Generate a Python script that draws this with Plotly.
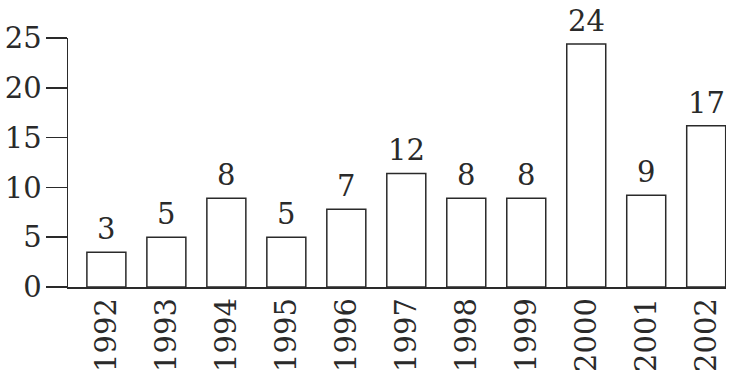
import plotly.graph_objects as go

years = ["1992", "1993", "1994", "1995", "1996", "1997", "1998", "1999", "2000", "2001", "2002"]
values = [3.5, 5.0, 8.9, 5.0, 7.8, 11.4, 8.9, 8.9, 24.4, 9.2, 16.2]
labels = ["3", "5", "8", "5", "7", "12", "8", "8", "24", "9", "17"]
y_ticks = [0, 5, 10, 15, 20, 25]

FONT = "DejaVu Serif"
INK = "#2a2a2a"
FS = 29

fig = go.Figure()
fig.add_trace(go.Bar(
    x=years, y=values, width=0.65,
    marker=dict(color="white", line=dict(color=INK, width=1.5)),
    hoverinfo="skip",
))

for i, (v, lab) in enumerate(zip(values, labels)):
    fig.add_annotation(x=i, y=v, xref="x", yref="y", text=lab, showarrow=False,
                       yanchor="bottom", yshift=4,
                       font=dict(family=FONT, size=FS, color=INK))

fig.update_layout(
    width=730, height=376,
    margin=dict(l=68, r=4, t=38, b=89),
    paper_bgcolor="white", plot_bgcolor="white",
    showlegend=False,
    font=dict(family=FONT, size=FS, color=INK),
    xaxis=dict(
        type="category", range=[-0.64, 10.33], automargin=False,
        showline=True, linecolor=INK, linewidth=1.5,
        showgrid=False, zeroline=False,
        tickangle=-90, ticks="", ticklabelstandoff=-2,
        tickfont=dict(family=FONT, size=FS, color=INK),
    ),
    yaxis=dict(
        range=[0, 25], tickvals=y_ticks, automargin=False,
        showline=True, linecolor=INK, linewidth=1.5,
        showgrid=False, zeroline=False,
        ticks="outside", ticklen=21, tickwidth=1.5, tickcolor=INK,
        ticklabelstandoff=-2,
        tickfont=dict(family=FONT, size=FS, color=INK),
    ),
)

fig.write_html(
    "out.html",
    config={"displayModeBar": False, "staticPlot": True},
    post_script="document.body.style.margin='0';document.documentElement.style.overflow='hidden';",
)
